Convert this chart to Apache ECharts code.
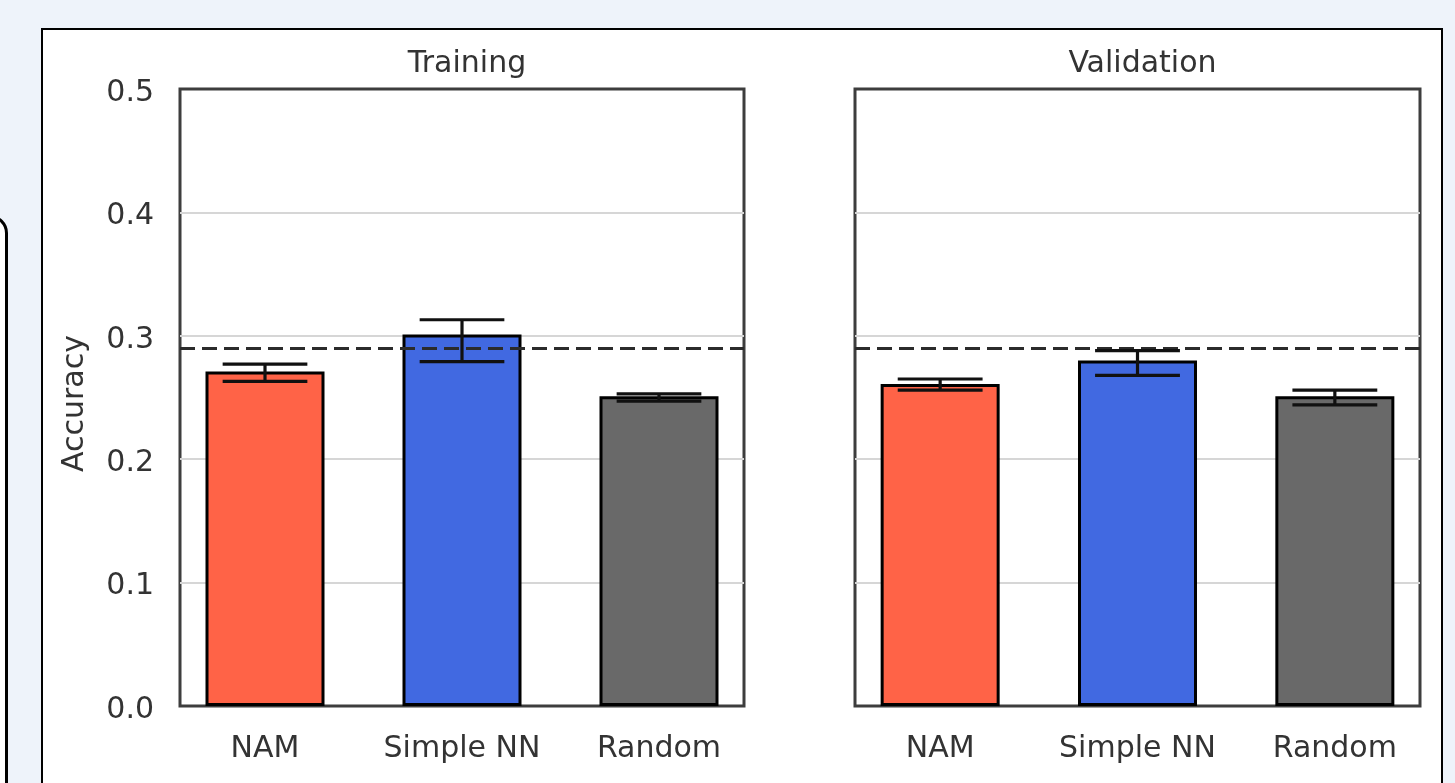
<!DOCTYPE html>
<html>
<head>
<meta charset="utf-8">
<script src="https://cdn.jsdelivr.net/npm/echarts@6/dist/echarts.min.js"></script>
<style>
  html, body {
    margin: 0;
    padding: 0;
    width: 1455px;
    height: 783px;
    overflow: hidden;
    background: #eef3fa;
  }
  .side-box {
    position: absolute;
    left: -40px;
    top: 215px;
    width: 42px;
    height: 700px;
    border: 3px solid #000;
    border-radius: 18px;
    background: #fff;
  }
  .panel {
    position: absolute;
    left: 41px;
    top: 28px;
    width: 1398px;
    height: 760px;
    border: 2px solid #000;
    background: #fff;
  }
  #chart {
    position: absolute;
    left: 0;
    top: 0;
    width: 1455px;
    height: 783px;
  }
</style>
</head>
<body>
<div class="side-box"></div>
<div class="panel"></div>
<div id="chart"></div>
<script>
// data
const categories = ["NAM", "Simple NN", "Random"];
const trainMean = [0.271, 0.301, 0.251];
const trainLow = [0.263, 0.279, 0.247];
const trainHigh = [0.277, 0.313, 0.253];
const valMean = [0.261, 0.280, 0.251];
const valLow = [0.256, 0.268, 0.244];
const valHigh = [0.265, 0.288, 0.256];
const baseline = 0.2865;
const panelTitles = ["Training", "Validation"];

const barColors = ["#ff6347", "#4169e1", "#696969"];
const textColor = "#333333";
const font = "DejaVu Sans";

const chart = echarts.init(document.getElementById("chart"));

const makeBars = (mean, idx) => ({
  type: "bar",
  xAxisIndex: idx,
  yAxisIndex: idx,
  barWidth: 119,
  z: 2,
  data: mean.map((v, i) => ({
    value: [i, v],
    itemStyle: { color: barColors[i], borderColor: "#000", borderWidth: 3 }
  })),
  markLine: {
    silent: true,
    symbol: "none",
    label: { show: false },
    z: 4,
    lineStyle: { color: "#2b2b2b", width: 3, type: [15, 7] },
    data: [{ yAxis: baseline }]
  }
});

const makeErrors = (low, high, idx) => ({
  type: "custom",
  xAxisIndex: idx,
  yAxisIndex: idx,
  z: 5,
  data: low.map((l, i) => [i, l, high[i]]),
  renderItem: (params, api) => {
    const x = api.value(0);
    const pLow = api.coord([x, api.value(1)]);
    const pHigh = api.coord([x, api.value(2)]);
    const half = api.size([0.43, 0])[0] / 2;
    const style = { stroke: "#111", lineWidth: 3.2 };
    return {
      type: "group",
      children: [
        { type: "line", shape: { x1: pLow[0], y1: pLow[1], x2: pHigh[0], y2: pHigh[1] }, style },
        { type: "line", shape: { x1: pLow[0] - half, y1: pLow[1], x2: pLow[0] + half, y2: pLow[1] }, style },
        { type: "line", shape: { x1: pHigh[0] - half, y1: pHigh[1], x2: pHigh[0] + half, y2: pHigh[1] }, style }
      ]
    };
  }
});

const grids = [
  { left: 180, top: 89, width: 564, height: 617 },
  { left: 855, top: 89, width: 565, height: 617 }
];

const option = {
  animation: false,
  textStyle: { fontFamily: font, color: textColor },
  title: panelTitles.map((t, i) => ({
    text: t,
    left: grids[i].left + grids[i].width / 2,
    top: 44,
    textAlign: "center",
    textStyle: { fontFamily: font, fontSize: 30, fontWeight: "normal", color: textColor }
  })),
  grid: grids.map(g => ({
    ...g,
    show: true,
    backgroundColor: "#fff",
    borderColor: "#3d3d3d",
    borderWidth: 3
  })),
  xAxis: grids.map((g, i) => ({
    type: "value",
    gridIndex: i,
    min: -0.4315,
    max: 2.4315,
    axisLine: { show: false },
    axisTick: { show: false },
    splitLine: { show: false },
    axisLabel: {
      customValues: [0, 1, 2],
      formatter: v => categories[v],
      fontFamily: font,
      fontSize: 30,
      color: textColor,
      margin: 28
    }
  })),
  yAxis: grids.map((g, i) => ({
    type: "value",
    gridIndex: i,
    min: 0,
    max: 0.5,
    interval: 0.1,
    name: i === 0 ? "Accuracy" : "",
    nameLocation: "middle",
    nameGap: 90,
    nameTextStyle: { fontFamily: font, fontSize: 30, color: textColor, padding: [0, 12, 0, 0] },
    axisLine: { show: false },
    axisTick: { show: false },
    splitLine: {
      show: true,
      showMinLine: false,
      showMaxLine: false,
      lineStyle: { color: "#d6d6d6", width: 2 }
    },
    axisLabel: {
      show: i === 0,
      formatter: v => "{t|" + v.toFixed(1) + "}",
      margin: 26,
      rich: {
        t: { fontFamily: font, fontSize: 30, color: textColor, padding: [8, 0, 0, 0] }
      }
    }
  })),
  series: [
    makeBars(trainMean, 0),
    makeErrors(trainLow, trainHigh, 0),
    makeBars(valMean, 1),
    makeErrors(valLow, valHigh, 1)
  ]
};

chart.setOption(option);
</script>
</body>
</html>
